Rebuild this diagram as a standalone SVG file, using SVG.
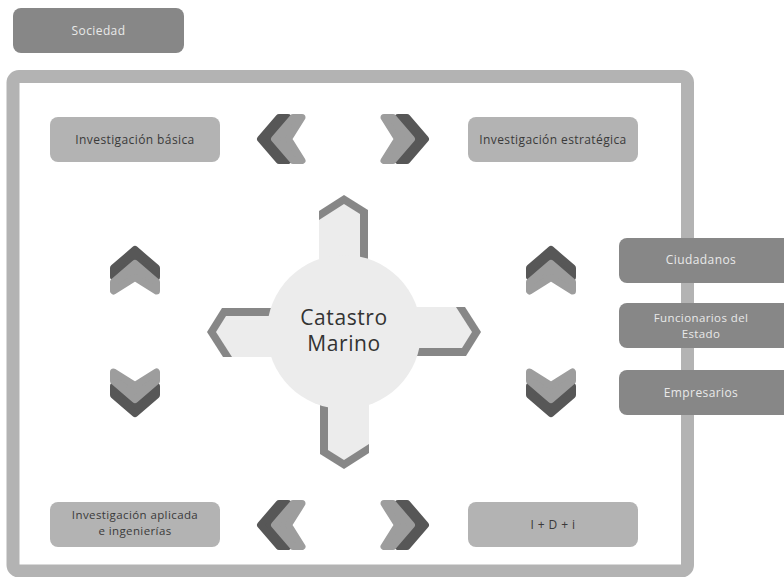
<svg xmlns="http://www.w3.org/2000/svg" xmlns:xlink="http://www.w3.org/1999/xlink" width="784" height="577" viewBox="0 0 784 577">
  <style>
    text { font-family: "Open Sans", "Liberation Sans", sans-serif; text-anchor: middle; }
    .box-dark { fill: #878787; }
    .box-light { fill: #b3b3b3; }
    .t-light { fill: #e9e9e9; font-size: 12px; letter-spacing: 0.4px; }
    .t-dark { fill: #3a3a3a; font-size: 12px; letter-spacing: 0.4px; }
    .t-small { font-size: 11.5px; }
    .t-center { fill: #333333; font-size: 21px; letter-spacing: 0.6px; }
    .chev-dark { fill: #575757; stroke: #575757; stroke-width: 7; stroke-linejoin: round; }
    .chev-light { fill: #9d9d9d; stroke: #9d9d9d; stroke-width: 7; stroke-linejoin: round; }
    .frame { fill: none; stroke: #b3b3b3; stroke-width: 13; }
    .arm-edge { fill: #878787; }
    .arm-fill { fill: #ececec; }
  </style>
  <defs>
    <!-- a pair of nested chevrons pointing left; tip of the dark one at the origin -->
    <path id="chev" d="M3.5,0 L22,-21.5 L31,-21.5 L17.5,0 L31,21.5 L22,21.5 Z"/>
    <g id="pair">
      <use xlink:href="#chev" href="#chev" class="chev-dark"/>
      <use xlink:href="#chev" href="#chev" class="chev-light" transform="translate(14,0)"/>
    </g>
    <!-- one arm of the central cross, pointing up from the circle centre -->
    <g id="arm">
      <path class="arm-edge" d="M-25,-60 L-25,-121 L0,-137 L24,-122 L24,-60 Z"/>
      <path class="arm-fill" d="M-25,-60 L-25,-112 L0,-128 L16,-118 L16,-60 Z"/>
    </g>
  </defs>

  <rect width="784" height="577" fill="#ffffff"/>

  <!-- outer frame -->
  <rect class="frame" x="13" y="76.5" width="674.5" height="494.5" rx="6"/>

  <g id="sociedad">
    <rect class="box-dark" x="13" y="8" width="171" height="45" rx="8"/>
    <text class="t-light" x="98.5" y="35">Sociedad</text>
  </g>

  <g id="investigacion-basica">
    <rect class="box-light" x="50" y="117" width="170" height="45" rx="8"/>
    <text class="t-dark" x="135" y="144">Investigación básica</text>
  </g>

  <g id="investigacion-estrategica">
    <rect class="box-light" x="468" y="117" width="170" height="45" rx="8"/>
    <text class="t-dark" x="553" y="144">Investigación estratégica</text>
  </g>

  <g id="investigacion-aplicada">
    <rect class="box-light" x="50" y="502" width="170" height="45" rx="8"/>
    <text class="t-dark t-small" x="135" y="519">Investigación aplicada</text>
    <text class="t-dark t-small" x="135" y="535">e ingenierías</text>
  </g>

  <g id="idi">
    <rect class="box-light" x="468" y="502" width="170" height="45" rx="8"/>
    <text class="t-dark" x="553" y="529">I + D + i</text>
  </g>

  <g id="ciudadanos">
    <rect class="box-dark" x="619" y="238" width="172" height="45" rx="8"/>
    <text class="t-light" x="701" y="264">Ciudadanos</text>
  </g>

  <g id="funcionarios">
    <rect class="box-dark" x="619" y="303" width="172" height="45" rx="8"/>
    <text class="t-light t-small" x="701" y="322">Funcionarios del</text>
    <text class="t-light t-small" x="701" y="338">Estado</text>
  </g>

  <g id="empresarios">
    <rect class="box-dark" x="619" y="370" width="172" height="45" rx="8"/>
    <text class="t-light" x="701" y="397">Empresarios</text>
  </g>

  <g id="catastro-marino" transform="translate(344,332)">
    <use xlink:href="#arm" href="#arm"/>
    <use xlink:href="#arm" href="#arm" transform="rotate(90)"/>
    <use xlink:href="#arm" href="#arm" transform="rotate(180)"/>
    <use xlink:href="#arm" href="#arm" transform="rotate(270)"/>
    <circle r="77" fill="#ececec"/>
    <text class="t-center" x="0" y="-7">Catastro</text>
    <text class="t-center" x="0" y="19">Marino</text>
  </g>

  <!-- connectors: chevron pairs around the centre -->
  <g id="connectors">
    <use xlink:href="#pair" href="#pair" transform="translate(257,139)"/>
    <use xlink:href="#pair" href="#pair" transform="translate(429,139) scale(-1,1)"/>
    <use xlink:href="#pair" href="#pair" transform="translate(257,525)"/>
    <use xlink:href="#pair" href="#pair" transform="translate(429,525) scale(-1,1)"/>
    <use xlink:href="#pair" href="#pair" transform="translate(135,246) rotate(90)"/>
    <use xlink:href="#pair" href="#pair" transform="translate(135,417) rotate(-90)"/>
    <use xlink:href="#pair" href="#pair" transform="translate(551,246) rotate(90)"/>
    <use xlink:href="#pair" href="#pair" transform="translate(551,417) rotate(-90)"/>
  </g>
</svg>
